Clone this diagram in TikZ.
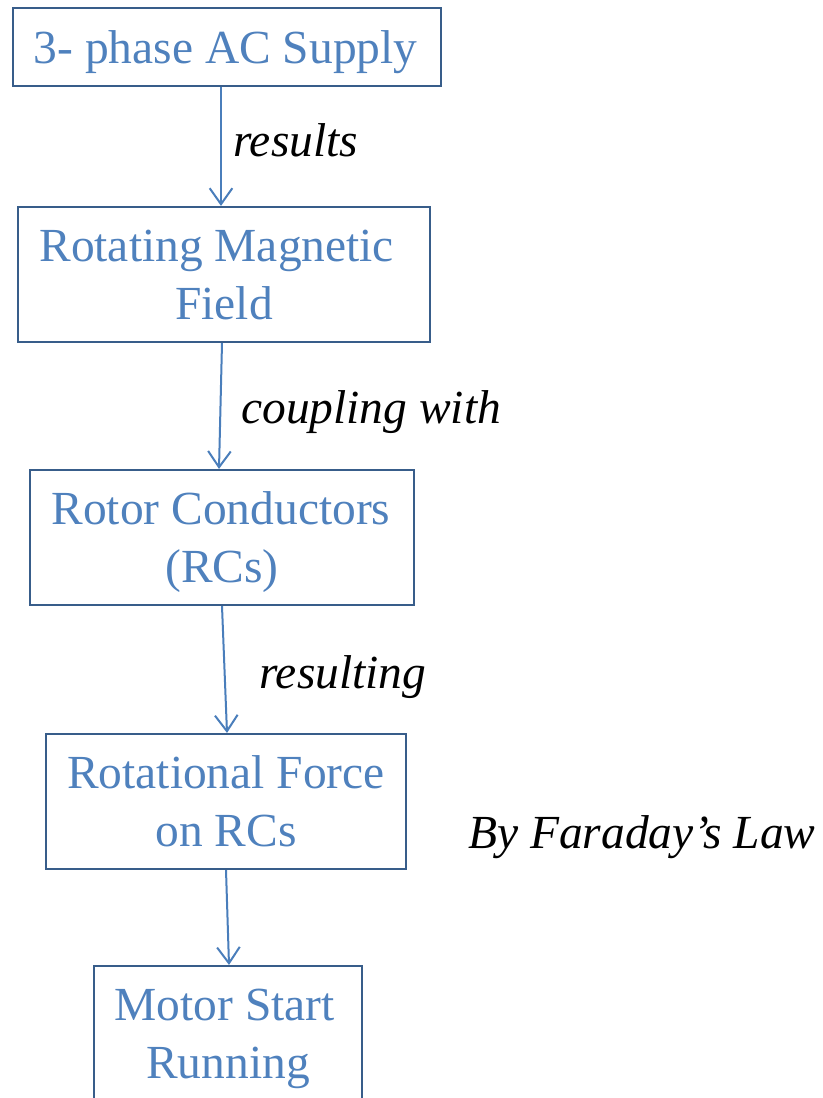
\documentclass[tikz,border=0pt]{standalone}
\usepackage{fontspec}
\setmainfont{Liberation Serif}
\usetikzlibrary{arrows.meta,calc}
\definecolor{boxline}{HTML}{385D8A}
\definecolor{boxtext}{HTML}{4F81BD}
\definecolor{arrline}{HTML}{4A7EBB}
\newcommand\zerodepth[1]{\raisebox{0pt}[\height][-3.5pt]{#1}}
\begin{document}
\begin{tikzpicture}[x=0.75pt,y=-0.75pt,
  flowbox/.style={draw=boxline, line width=1.6pt, text=boxtext, align=center, inner sep=0pt,
    font=\fontsize{35.6}{43.5}\selectfont},
  flowarrow/.style={draw=arrline, line width=1.5pt,
    -{Straight Barb[length=12pt,width=17pt,line width=1.5pt]}},
  steplabel/.style={anchor=base west, inner sep=0pt, font=\fontsize{35.6}{43.5}\selectfont\itshape}]
\clip (0,0) rectangle (823,1098);
\useasboundingbox (0,0) rectangle (823,1098);

\node[flowbox, minimum width=321pt, minimum height=58.5pt] (supply) at (227,47)
  {\zerodepth{3- phase AC Supply\hspace*{2pt}}};
\node[flowbox, minimum width=309pt, minimum height=101.25pt] (field) at (224,274.5)
  {Rotating Magnetic\hspace*{11pt}\\\zerodepth{Field}};
\node[flowbox, minimum width=288pt, minimum height=101.25pt] (rotor) at (222,537.5)
  {Rotor Conductors\hspace*{1.5pt}\\\zerodepth{(RCs)}};
\node[flowbox, minimum width=270pt, minimum height=101.25pt] (force) at (226,801.5)
  {Rotational Force\\\zerodepth{on RCs}};
\node[flowbox, minimum width=201pt, minimum height=101.25pt] (motor) at (228,1033.5)
  {Motor Start\hspace*{5pt}\\\zerodepth{Running}};

\draw[flowarrow] ($(supply.south)+(-6,0)$) -- ($(field.north)+(-3,0)$);
\draw[flowarrow] ($(field.south)+(-2,0)$) -- ($(rotor.north)+(-3,0)$);
\draw[flowarrow] ($(rotor.south)+(0,0)$) -- ($(force.north)+(1,0)$);
\draw[flowarrow] ($(force.south)+(0,0)$) -- ($(motor.north)+(1,0)$);

\node[steplabel] (l1) at (233,157) {results};
\node[steplabel] (l2) at (241,423) {coupling with};
\node[steplabel] (l3) at (259,688) {resulting};
\node[steplabel] (l4) at (468,848) {By Faraday’s Law};
\end{tikzpicture}
\end{document}
